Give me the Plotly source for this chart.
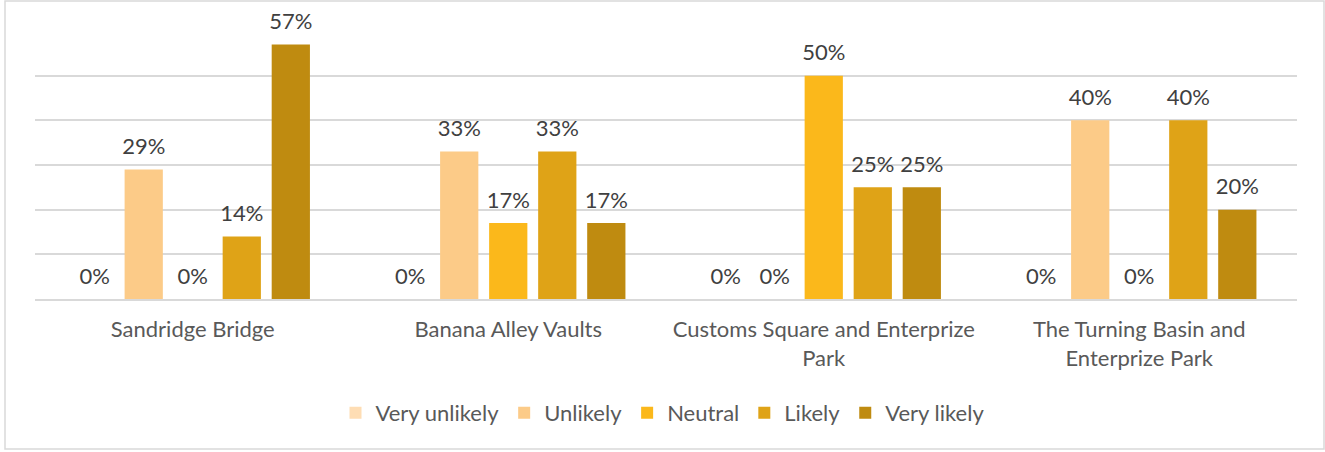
import plotly.graph_objects as go

# Survey results by site: share of respondents per likelihood rating
categories = [
    "Sandridge Bridge",
    "Banana Alley Vaults",
    "Customs Square and Enterprize<br>Park",
    "The Turning Basin and<br>Enterprize Park",
]
series_names = ["Very unlikely", "Unlikely", "Neutral", "Likely", "Very likely"]
very_unlikely = [0.00, 0.00, 0.00, 0.00]
unlikely = [0.29, 0.33, 0.00, 0.40]
neutral = [0.00, 0.17, 0.50, 0.00]
likely = [0.14, 0.33, 0.25, 0.40]
very_likely = [0.57, 0.17, 0.25, 0.20]
series_values = [very_unlikely, unlikely, neutral, likely, very_likely]
colors = ["#FEDDB4", "#FCCB88", "#FBB81B", "#DFA317", "#BF8B10"]

FONT = "Lato, sans-serif"
BARGAP = 0.223

fig = go.Figure()
for i, (name, vals, col) in enumerate(zip(series_names, series_values, colors)):
    fig.add_trace(go.Bar(
        name=name,
        x=categories,
        y=vals,
        marker=dict(color=col, line=dict(width=0)),
        offsetgroup=str(i),
        hoverinfo="skip",
    ))

# Value labels: text-only scatter traces grouped alongside the bars
for i, (name, vals) in enumerate(zip(series_names, series_values)):
    fig.add_trace(go.Scatter(
        x=categories,
        y=vals,
        mode="markers+text",
        marker=dict(size=14, opacity=0),
        text=[f"{v:.0%}" for v in vals],
        textposition="top center",
        textfont=dict(family=FONT, size=22, color="#404040"),
        offsetgroup=str(i),
        showlegend=False,
        cliponaxis=False,
        hoverinfo="skip",
    ))

fig.update_layout(
    width=1325,
    height=452,
    margin=dict(l=35, r=28, t=31, b=153),
    paper_bgcolor="white",
    plot_bgcolor="white",
    barmode="group",
    scattermode="group",
    bargap=BARGAP,
    scattergap=BARGAP,
    bargroupgap=0.22,
    font=dict(family=FONT, size=22, color="#595959"),
    showlegend=True,
    legend=dict(
        orientation="h",
        x=0.5, xanchor="center", xref="container",
        y=1 - 413 / 452, yanchor="middle", yref="container",
        font=dict(family=FONT, size=22, color="#595959"),
        itemwidth=30,
        traceorder="normal",
        bgcolor="rgba(0,0,0,0)",
    ),
    xaxis=dict(
        showline=True, linecolor="#D9D9D9", linewidth=2,
        ticks="", tickfont=dict(family=FONT, size=22, color="#595959"),
        ticklabelstandoff=10,
        showgrid=False,
    ),
    yaxis=dict(
        range=[0, 0.6], dtick=0.1,
        showgrid=True, gridcolor="#D9D9D9", gridwidth=1.5,
        showticklabels=False, zeroline=False, ticks="",
    ),
    shapes=[dict(
        type="rect", xref="paper", yref="paper",
        x0=-30 / 1262, x1=1289 / 1262, y0=-150 / 268, y1=(268 + 30) / 268,
        line=dict(color="#D9D9D9", width=1.5), fillcolor="rgba(0,0,0,0)",
        layer="below",
    )],
)

fig.write_html("out.html")
